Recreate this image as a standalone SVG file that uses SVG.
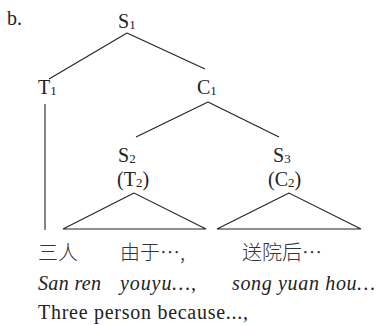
<svg xmlns="http://www.w3.org/2000/svg" width="380" height="325" viewBox="0 0 380 325">
  <style>
    .t { font-family: 'Liberation Serif', 'Times New Roman', serif; font-size: 20px; fill: #222; }
    .cjk { font-family: 'Noto Sans CJK SC', sans-serif; font-size: 20px; fill: #333; font-weight: 300; }
    .it { font-style: italic; }
    .sub { font-size: 13px; }
    .edge { stroke: #222; stroke-width: 1.1; fill: none; }
  </style>
  <rect width="380" height="325" fill="#fff"/>

  <text class="t" x="7" y="25">b.</text>

  <!-- tree branches -->
  <g id="connectors">
    <line class="edge" x1="127" y1="33" x2="49" y2="79"/>
    <line class="edge" x1="127" y1="33" x2="205" y2="69"/>
    <line class="edge" x1="45" y1="104" x2="45" y2="230"/>
    <line class="edge" x1="208" y1="102" x2="136" y2="137"/>
    <line class="edge" x1="208" y1="102" x2="279" y2="137"/>
  </g>

  <g id="S1"><text class="t" x="118" y="28">S<tspan class="sub" dy="1">1</tspan></text></g>
  <g id="T1"><text class="t" x="38" y="94">T<tspan class="sub" dy="1">1</tspan></text></g>
  <g id="C1"><text class="t" x="197" y="94">C<tspan class="sub" dy="1">1</tspan></text></g>

  <!-- clause nodes with collapsed-subtree triangles -->
  <g id="S2">
    <text class="t" x="118" y="162">S<tspan class="sub" dy="1">2</tspan></text>
    <text class="t" x="117" y="186">(T<tspan class="sub" dy="1">2</tspan><tspan dy="-1">)</tspan></text>
    <polygon class="edge" points="134,193 63,229 206,229"/>
  </g>

  <g id="S3">
    <text class="t" x="273" y="162">S<tspan class="sub" dy="1">3</tspan></text>
    <text class="t" x="268" y="186">(C<tspan class="sub" dy="1">2</tspan><tspan dy="-1">)</tspan></text>
    <polygon class="edge" points="289,193 217,229 361,229"/>
  </g>

  <!-- leaves: characters, pinyin, English gloss -->
  <g id="gloss">
    <text class="cjk" x="38" y="260">三人</text>
    <text class="cjk" x="120" y="260">由于…,</text>
    <text class="cjk" x="242" y="260">送院后…</text>
    <text class="t it" x="38" y="290" textLength="63">San ren</text>
    <text class="t it" x="120" y="290" textLength="76">youyu…,</text>
    <text class="t it" x="232" y="290" textLength="143">song yuan hou…</text>
    <text class="t" x="38" y="319" textLength="210">Three person because...,</text>
  </g>
</svg>
